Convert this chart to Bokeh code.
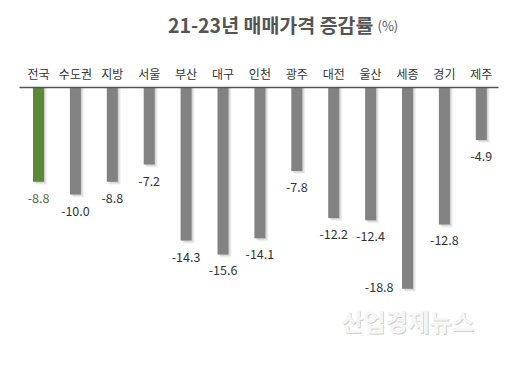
from bokeh.plotting import figure
from bokeh.models import Range1d, ColumnDataSource
from bokeh.core.properties import value
from bokeh.embed import file_html
from bokeh.resources import INLINE

# ---- data ----
categories = ["전국", "수도권", "지방", "서울", "부산", "대구", "인천", "광주", "대전", "울산", "세종", "경기", "제주"]
changes = [-8.8, -10.0, -8.8, -7.2, -14.3, -15.6, -14.1, -7.8, -12.2, -12.4, -18.8, -12.8, -4.9]
title_main = "21-23년 매매가격 증감률"
title_unit = "(%)"
watermark = "산업경제뉴스"

# ---- geometry (pixels) ----
W, H = 511, 367
PX_X = 36.9       # px per category step
PX_Y = 10.7       # px per percent
X0_PX = 38.0      # first bar centre from figure left
ZERO_PX = 87.0    # zero line from figure top

x_start = -X0_PX / PX_X
x_end = x_start + W / PX_X
y_end = ZERO_PX / PX_Y
y_start = y_end - H / PX_Y

def dx(px):
    return px / PX_X

def dy(px):
    return px / PX_Y

def xpix(px):  # figure px -> data x
    return x_start + px / PX_X

def ypix(px):  # figure px from top -> data y
    return y_end - px / PX_Y

FONT = "Noto Sans CJK KR"

p = figure(width=W, height=H, x_range=Range1d(x_start, x_end), y_range=Range1d(y_start, y_end),
           output_backend="svg", toolbar_location=None, min_border=0,
           x_axis_location=None, y_axis_location=None, outline_line_color=None)
p.xgrid.visible = False
p.ygrid.visible = False
p.background_fill_color = "white"
p.border_fill_color = "white"

idx = list(range(len(categories)))
colors = ["#5a8a36" if i == 0 else "#828282" for i in idx]
label_colors = ["#4f6e3a" if i == 0 else "#333333" for i in idx]

# shadows
for off, alpha in [(3.0, 0.10), (2.0, 0.15), (1.0, 0.2)]:
    p.vbar(x=[i + dx(off) for i in idx], top=[0] * len(idx), bottom=[v - dy(off) for v in changes],
           width=dx(11), fill_color="#888888", fill_alpha=alpha, line_color=None)

src = ColumnDataSource(dict(x=idx, v=changes, c=colors))
p.vbar(x="x", top=0, bottom="v", width=dx(11), fill_color="c", line_color=None, source=src)

# zero axis line
p.segment(x0=[xpix(19)], y0=[0], x1=[xpix(498)], y1=[0], line_color="#555555", line_width=1.5)

# category labels
p.text(x=idx, y=[dy(14)] * len(idx), text=categories, text_align="center", text_baseline="middle",
       text_font=value(FONT), text_font_size="12px", text_color="#333333")

# value labels
min_v = min(changes)
lx, ly, la, lt = [], [], [], []
for i, v in zip(idx, changes):
    if v == min_v:
        lx.append(i - dx(14)); ly.append(v + dy(2)); la.append("right")
    else:
        lx.append(i); ly.append(v - dy(16)); la.append("center")
    lt.append(f"{v:.1f}")
p.text(x=lx, y=ly, text=lt, text_align=la, text_baseline="middle",
       text_font=value(FONT), text_font_size="12.5px", text_color=label_colors)

# title
p.text(x=[xpix(373)], y=[ypix(24)], text=[title_main], text_align="right", text_baseline="middle",
       text_font=value(FONT), text_font_size="19.5px", text_font_style="bold", text_color="#555555")
p.text(x=[xpix(377)], y=[ypix(25)], text=[title_unit], text_align="left", text_baseline="middle",
       text_font=value(FONT), text_font_size="13px", text_color="#555555")

# watermark
p.text(x=[xpix(407) + dx(1)], y=[ypix(320) - dy(1)], text=[watermark], text_align="center", text_baseline="middle",
       text_font=value(FONT), text_font_size="24px", text_font_style="bold", text_color="#d0d0d0")
p.text(x=[xpix(407)], y=[ypix(320)], text=[watermark], text_align="center", text_baseline="middle",
       text_font=value(FONT), text_font_size="24px", text_font_style="bold", text_color="#f6f6f6")

open("out.html", "w").write(file_html(p, INLINE))
